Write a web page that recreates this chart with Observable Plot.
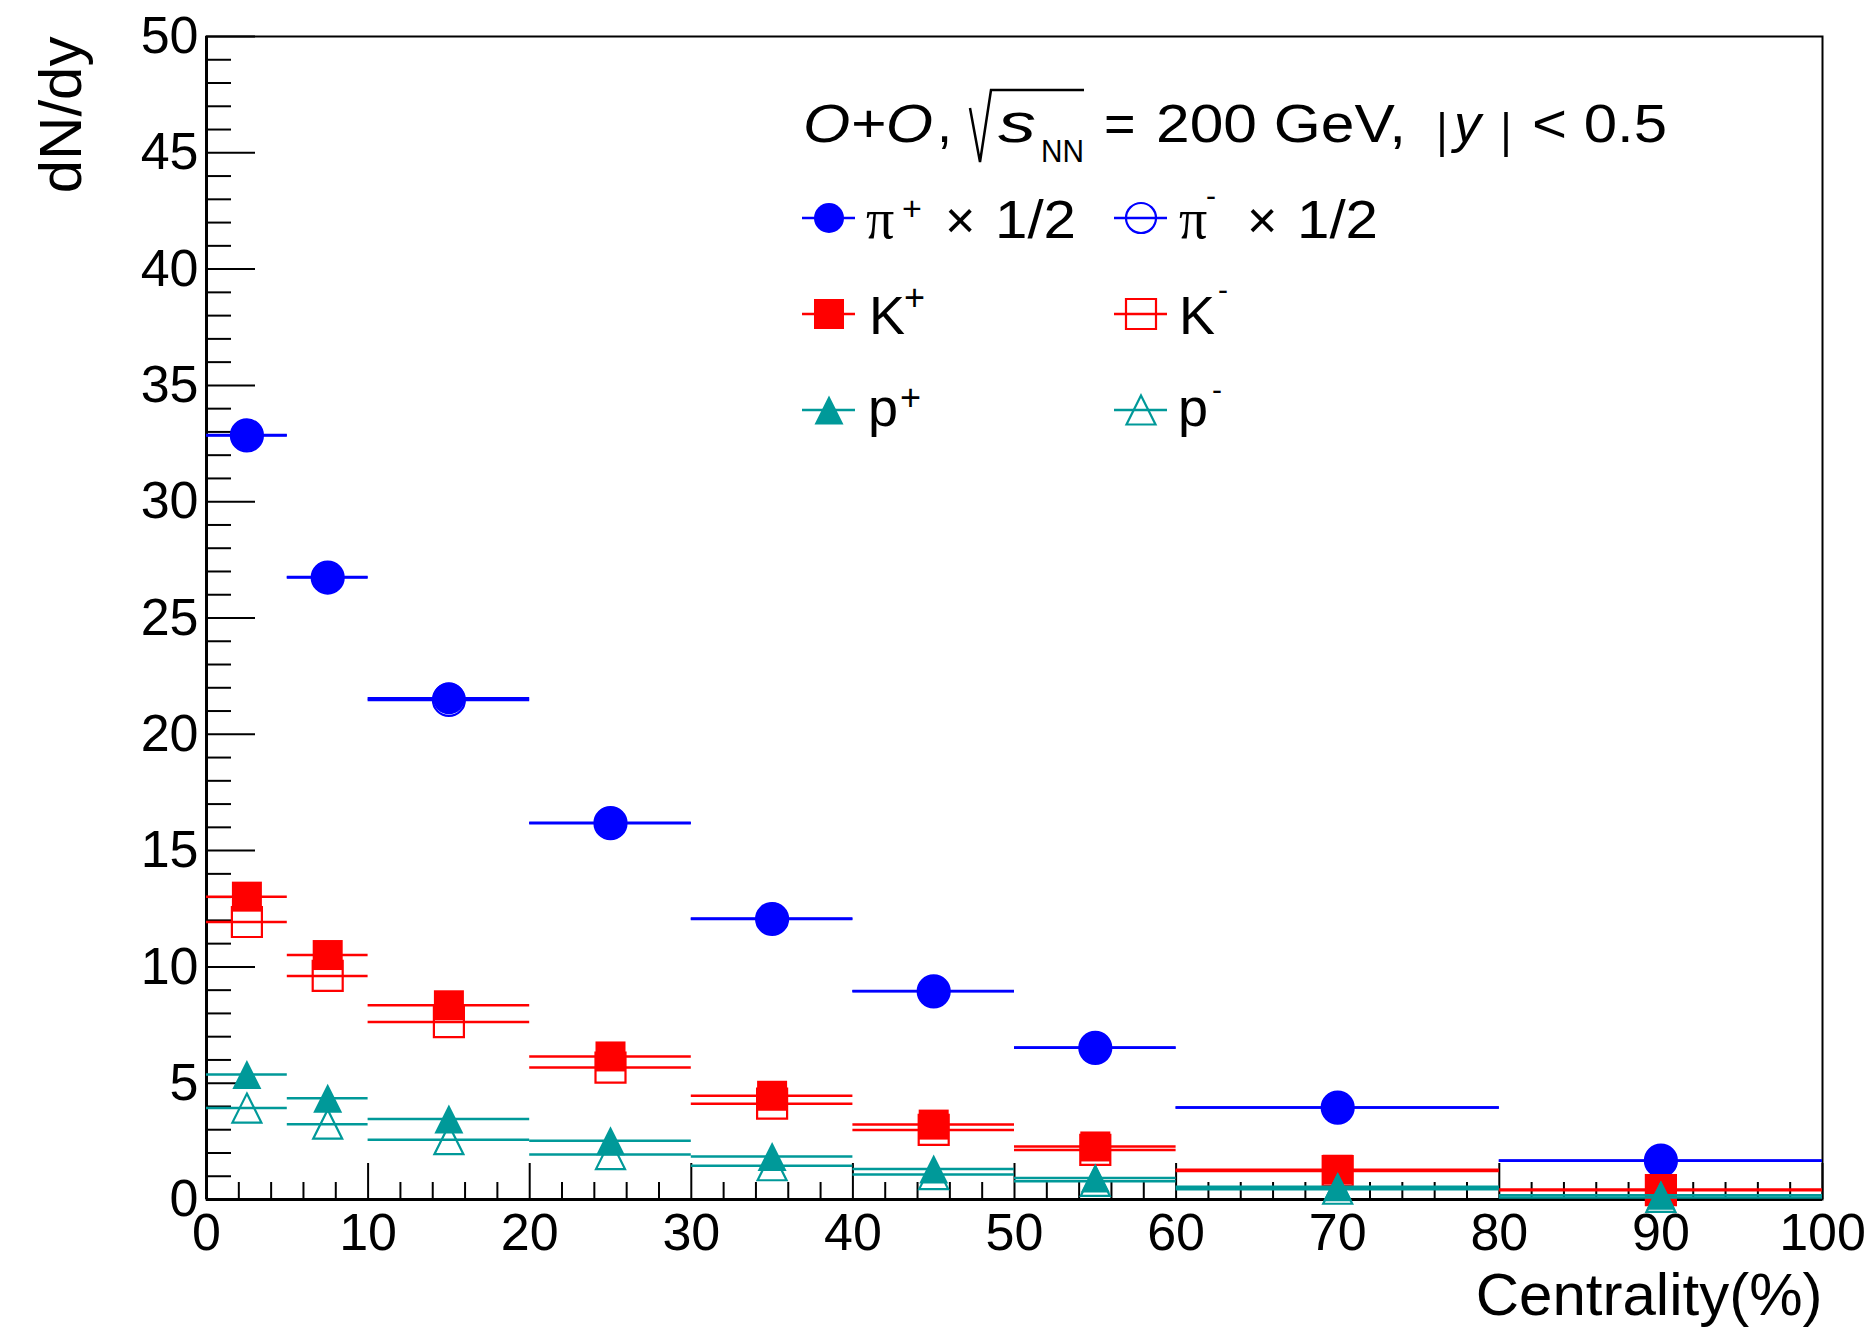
<!DOCTYPE html>
<html><head><meta charset="utf-8">
<script src="https://cdn.jsdelivr.net/npm/d3@7"></script>
<script src="https://cdn.jsdelivr.net/npm/@observablehq/plot@0.6"></script>
<style>html,body{margin:0;padding:0;background:#fff;} #chart svg{display:block;}</style>
</head><body><div id="chart"></div>
<script>
// ---- data ----
const binLow  = [0, 5, 10, 20, 30, 40, 50, 60, 80];
const binHigh = [5, 10, 20, 30, 40, 50, 60, 80, 100];
const centrality = [2.5, 7.5, 15, 25, 35, 45, 55, 70, 90];
const piPlusHalf  = [32.87, 26.76, 21.55, 16.2, 12.08, 8.96, 6.53, 3.96, 1.68];
const piMinusHalf = [32.85, 26.74, 21.48, 16.18, 12.06, 8.95, 6.52, 3.95, 1.67];
const kPlus  = [13.02, 10.51, 8.35, 6.15, 4.46, 3.22, 2.28, 1.28, 0.43];
const kMinus = [11.93, 9.61, 7.63, 5.67, 4.12, 2.99, 2.13, 1.22, 0.40];
const pPlus  = [5.37, 4.35, 3.46, 2.53, 1.85, 1.31, 0.92, 0.55, 0.18];
const pMinus = [3.93, 3.24, 2.57, 1.93, 1.45, 1.07, 0.78, 0.44, 0.09];
const xMajorTicks = [0, 10, 20, 30, 40, 50, 60, 70, 80, 90, 100];
const yMajorTicks = [0, 5, 10, 15, 20, 25, 30, 35, 40, 45, 50];

// ---- marker shapes ----
const symCircle = d3.symbolCircle;
const symSquare = {draw(ctx, size){ const r = Math.sqrt(size/Math.PI); ctx.rect(-r,-r,2*r,2*r); }};
const symTriangle = {draw(ctx, size){ const r = Math.sqrt(size/Math.PI); ctx.moveTo(0,-r); ctx.lineTo(r,r); ctx.lineTo(-r,r); ctx.closePath(); }};

const BLUE = "#0000ff", RED = "#ff0000", TEAL = "#009999";
const series = [
  {values: piMinusHalf, color: BLUE, sym: symCircle, r: 16, filled: false},
  {values: piPlusHalf,  color: BLUE, sym: symCircle, r: 16, filled: true},
  {values: kMinus,      color: RED,  sym: symSquare, r: 15, filled: false},
  {values: kPlus,       color: RED,  sym: symSquare, r: 15, filled: true},
  {values: pMinus,      color: TEAL, sym: symTriangle, r: 14.5, filled: false},
  {values: pPlus,       color: TEAL, sym: symTriangle, r: 14.5, filled: true}
];

const dataMarks = [];
for (const s of series) {
  const rows = centrality.map((c, i) => ({x: c, lo: binLow[i], hi: binHigh[i], y: s.values[i]}));
  dataMarks.push(Plot.ruleY(rows, {y: "y", x1: "lo", x2: "hi", stroke: s.color, strokeWidth: 2.5}));
  dataMarks.push(Plot.dot(rows, {x: "x", y: "y", r: s.r, symbol: s.sym,
    fill: s.filled ? s.color : "none", stroke: s.filled ? "none" : s.color, strokeWidth: s.filled ? 0 : 2.2}));
}

const xMinor = d3.range(0, 101, 2).filter(v => v % 10 !== 0);
const yMinor = d3.range(0, 51, 1).filter(v => v % 5 !== 0);

const plot = Plot.plot({
  width: 1876, height: 1329,
  marginLeft: 206, marginRight: 54, marginTop: 36, marginBottom: 130,
  x: {domain: [0, 100]},
  y: {domain: [0, 50]},
  style: {fontFamily: "'Liberation Sans', Arial, sans-serif", fontSize: "52px", background: "#fff", color: "#000"},
  marks: [
    Plot.frame({stroke: "#000", strokeWidth: 2}),
    Plot.axisX({ticks: xMinor, tickSize: -17, tickFormat: () => "", label: null, strokeWidth: 2}),
    Plot.axisX({ticks: xMajorTicks, tickSize: -36, tickFormat: () => "", label: null, strokeWidth: 2}),
    Plot.axisX({ticks: xMajorTicks, tickSize: 0, tickPadding: 14, tickFormat: d => String(d), label: null, fontSize: 52}),
    Plot.axisY({ticks: yMinor, tickSize: -25, tickFormat: () => "", label: null, strokeWidth: 2}),
    Plot.axisY({ticks: yMajorTicks, tickSize: -49, tickFormat: () => "", label: null, strokeWidth: 2}),
    Plot.axisY({ticks: yMajorTicks, tickSize: 0, tickPadding: 8, tickFormat: d => String(d), label: null, fontSize: 52}),
    Plot.ruleX([0], {stroke: "#000", strokeWidth: 3}),
    Plot.ruleY([0], {stroke: "#000", strokeWidth: 3}),
    Plot.text(["Centrality(%)"], {text: d => d, frameAnchor: "bottom-right", textAnchor: "end", lineAnchor: "top", dy: 73, fontSize: 60}),
    Plot.text(["dN/dy"], {text: d => d, frameAnchor: "top-left", rotate: -90, textAnchor: "end", lineAnchor: "top", dx: -168, dy: 0, fontSize: 60}),
    ...dataMarks
  ]
});
document.getElementById("chart").appendChild(plot);

// ---- legend (drawn in pixel space inside the frame) ----
const svg = d3.select(plot);
const L = svg.append("g").attr("font-family", "'Liberation Sans', Arial, sans-serif")
  .attr("fill", "#000").attr("text-anchor", "start");
function txt(x, y, s, size, o = {}) {
  const t = L.append("text").attr("x", x).attr("y", y).attr("font-size", size).text(s);
  if (o.italic) t.attr("font-style", "italic");
  if (o.family) t.attr("font-family", o.family);
  if (o.len) t.attr("textLength", o.len).attr("lengthAdjust", "spacingAndGlyphs");
  return t;
}
function seg(d, w) {
  L.append("path").attr("d", d).attr("fill", "none").attr("stroke", "#000").attr("stroke-width", w);
}
// header
txt(803, 142, "O+O", 54, {italic: true, len: 130});
txt(937, 142, ",", 54);
seg("M970,108 L980,162 L991,90 L1084,90", 2.5);
txt(998, 142, "s", 56, {italic: true, len: 38});
txt(1041, 162, "NN", 31, {len: 43});
txt(1104, 142, "=", 54);
txt(1156, 142, "200 GeV,", 54, {len: 250});
seg("M1442,112 L1442,157", 3.5);
txt(1454, 142, "y", 54, {italic: true});
seg("M1506,112 L1506,157", 3.5);
txt(1532, 142, "< 0.5", 54, {len: 135});

// entries
const entries = [
  {cx: 829, cy: 218, sym: symCircle, r: 15, color: BLUE, filled: true},
  {cx: 1141, cy: 218, sym: symCircle, r: 15, color: BLUE, filled: false},
  {cx: 829, cy: 314, sym: symSquare, r: 15, color: RED, filled: true},
  {cx: 1141, cy: 314, sym: symSquare, r: 15, color: RED, filled: false},
  {cx: 829, cy: 410, sym: symTriangle, r: 14.5, color: TEAL, filled: true},
  {cx: 1141, cy: 410, sym: symTriangle, r: 14.5, color: TEAL, filled: false}
];
for (const e of entries) {
  L.append("line").attr("x1", e.cx - 27).attr("x2", e.cx + 26).attr("y1", e.cy).attr("y2", e.cy)
    .attr("stroke", e.color).attr("stroke-width", 2.5);
  L.append("path").attr("transform", `translate(${e.cx},${e.cy})`)
    .attr("d", d3.symbol(e.sym, e.r * e.r * Math.PI)())
    .attr("fill", e.filled ? e.color : "none").attr("stroke", e.filled ? "none" : e.color).attr("stroke-width", 2.2);
}
const SERIF = "'Liberation Serif', 'DejaVu Serif', serif";
// row 1
txt(866, 238, "π", 56, {family: SERIF});
txt(902, 220, "+", 34);
txt(945, 238, "×", 52);
txt(995, 238, "1/2", 54, {len: 81});
txt(1179, 238, "π", 56, {family: SERIF});
txt(1206, 206, "-", 30);
txt(1247, 238, "×", 52);
txt(1297, 238, "1/2", 54, {len: 81});
// row 2
txt(869, 334, "K", 54);
txt(904, 310, "+", 36);
txt(1179, 334, "K", 54);
txt(1218, 300, "-", 30);
// row 3
txt(868, 426, "p", 54);
txt(900, 410, "+", 36);
txt(1178, 426, "p", 54);
txt(1212, 400, "-", 30);
</script>
</body></html>
